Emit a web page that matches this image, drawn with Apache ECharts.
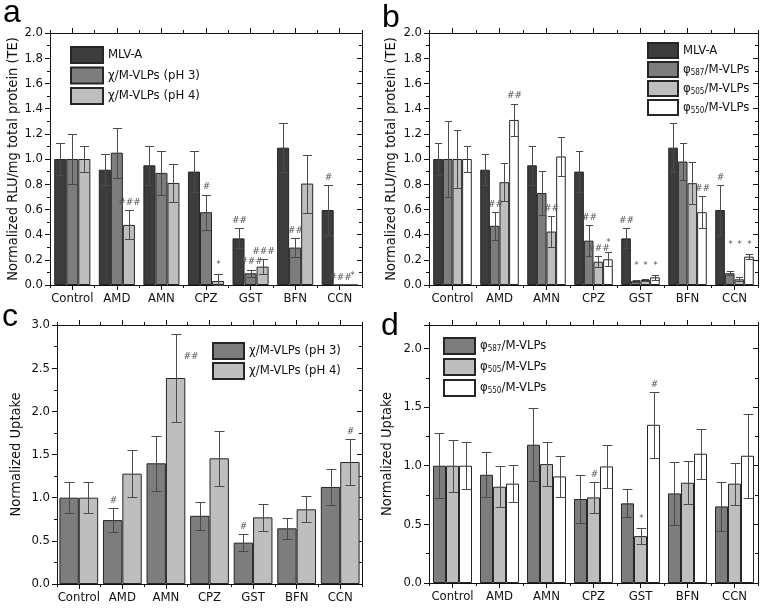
<!DOCTYPE html>
<html lang="en">
<head>
<meta charset="UTF-8">
<title>Normalized transduction and uptake</title>
<script src="https://cdn.jsdelivr.net/npm/echarts@6/dist/echarts.min.js"></script>
<style>
html, body { margin: 0; padding: 0; background: #fff; }
#chart { width: 763px; height: 608px; }
</style>
</head>
<body>
<div id="chart"></div>
<script>
var drugs = ['Control', 'AMD', 'AMN', 'CPZ', 'GST', 'BFN', 'CCN'];

// a / b : MLV-A reference (shared)
var mlvA = [1.00, 0.915, 0.95, 0.90, 0.37, 1.09, 0.595];
var mlvAErr = [0.13, 0.125, 0.155, 0.165, 0.08, 0.195, 0.2];
var mlvAAnn = ['', '', '', '', '##', '', '#'];

// a : chi/M-VLPs transduction
var aPH3 = [1.00, 1.05, 0.89, 0.578, 0.093, 0.297, 0];
var aPH3Err = [0.2, 0.2, 0.175, 0.14, 0.03, 0.075, 0];
var aPH3Ann = ['', '', '', '#', '###', '##', '###'];
var aPH4 = [1.00, 0.477, 0.81, 0.032, 0.146, 0.805, 0];
var aPH4Err = [0.105, 0.115, 0.15, 0.055, 0.06, 0.23, 0];
var aPH4Ann = ['', '###', '', '*', '###', '', '*'];

// b : phi/M-VLPs transduction
var bP587 = [1.00, 0.47, 0.73, 0.352, 0.032, 0.98, 0.093];
var bP587Err = [0.3, 0.11, 0.175, 0.125, 0.005, 0.15, 0.015];
var bP587Ann = ['', '##', '', '##', '*', '', '*'];
var bP505 = [1.00, 0.816, 0.424, 0.185, 0.04, 0.808, 0.045];
var bP505Err = [0.23, 0.15, 0.125, 0.045, 0.01, 0.165, 0.015];
var bP505Ann = ['', '', '##', '###', '*', '', '*'];
var bP550 = [1.00, 1.31, 1.02, 0.204, 0.061, 0.578, 0.225];
var bP550Err = [0.1, 0.13, 0.155, 0.055, 0.02, 0.125, 0.02];
var bP550Ann = ['', '##', '', '*', '*', '##', '*'];

// c : chi/M-VLPs uptake
var cPH3 = [1.00, 0.74, 1.398, 0.79, 0.479, 0.645, 1.124];
var cPH3Err = [0.18, 0.14, 0.32, 0.165, 0.1, 0.12, 0.21];
var cPH3Ann = ['', '#', '', '', '#', '', ''];
var cPH4 = [1.00, 1.278, 2.386, 1.456, 0.772, 0.865, 1.413];
var cPH4Err = [0.18, 0.275, 0.51, 0.32, 0.16, 0.15, 0.265];
var cPH4Ann = ['', '', '##', '', '', '', '#'];

// d : phi/M-VLPs uptake
var dP587 = [1.00, 0.923, 1.179, 0.716, 0.679, 0.764, 0.653];
var dP587Err = [0.275, 0.19, 0.31, 0.205, 0.12, 0.27, 0.21];
var dP587Ann = ['', '', '', '', '', '', ''];
var dP505 = [1.00, 0.821, 1.014, 0.73, 0.40, 0.855, 0.847];
var dP505Err = [0.22, 0.175, 0.19, 0.13, 0.07, 0.185, 0.18];
var dP505Ann = ['', '', '', '#', '*', '', ''];
var dP550 = [1.00, 0.847, 0.909, 0.994, 1.349, 1.102, 1.085];
var dP550Err = [0.2, 0.155, 0.175, 0.18, 0.28, 0.215, 0.36];
var dP550Ann = ['', '', '', '', '#', '', ''];

var FONT = '"DejaVu Sans Condensed", "DejaVu Sans", sans-serif';
var C_DARK = '#3c3c3c', C_MID = '#7d7d7d', C_LIGHT = '#bebebe', C_WHITE = '#ffffff';
var INK = '#111';

var panels = [
    {
        grid: {left: 50, top: 33, width: 312, height: 252},
        max: 2.0, interval: 0.2, gap: 0.19, yName: 'Normalized RLU/mg total protein (TE)', nameGap: 27,
        legend: {left: 70, top: 46, itemWidth: 32, itemHeight: 16, itemGap: 2.5},
        series: [
            {name: 'MLV-A', color: C_DARK, v: mlvA, e: mlvAErr, ann: mlvAAnn},
            {name: 'χ/M-VLPs (pH 3)', color: C_MID, v: aPH3, e: aPH3Err, ann: aPH3Ann},
            {name: 'χ/M-VLPs (pH 4)', color: C_LIGHT, v: aPH4, e: aPH4Err, ann: aPH4Ann}
        ]
    },
    {
        grid: {left: 429, top: 33, width: 329, height: 252},
        max: 2.0, interval: 0.2, gap: 0.18, yName: 'Normalized RLU/mg total protein (TE)', nameGap: 30,
        legend: {left: 647, top: 42, itemWidth: 30, itemHeight: 15, itemGap: 2},
        series: [
            {name: 'MLV-A', color: C_DARK, v: mlvA, e: mlvAErr, ann: mlvAAnn},
            {name: 'φ587/M-VLPs', color: C_MID, v: bP587, e: bP587Err, ann: bP587Ann},
            {name: 'φ505/M-VLPs', color: C_LIGHT, v: bP505, e: bP505Err, ann: bP505Ann},
            {name: 'φ550/M-VLPs', color: C_WHITE, v: bP550, e: bP550Err, ann: bP550Ann}
        ]
    },
    {
        grid: {left: 57, top: 325, width: 305, height: 259},
        max: 3.0, interval: 0.5, gap: 0.11, yName: 'Normalized Uptake', nameGap: 33,
        legend: {left: 212, top: 342, itemWidth: 31, itemHeight: 16, itemGap: 2},
        series: [
            {name: 'χ/M-VLPs (pH 3)', color: C_MID, v: cPH3, e: cPH3Err, ann: cPH3Ann},
            {name: 'χ/M-VLPs (pH 4)', color: C_LIGHT, v: cPH4, e: cPH4Err, ann: cPH4Ann}
        ]
    },
    {
        grid: {left: 429, top: 325, width: 329, height: 258},
        max: 2.2, interval: 0.5, gap: 0.17, yName: 'Normalized Uptake', nameGap: 34,
        legend: {left: 443, top: 337, itemWidth: 31, itemHeight: 16, itemGap: 3},
        series: [
            {name: 'φ587/M-VLPs', color: C_MID, v: dP587, e: dP587Err, ann: dP587Ann},
            {name: 'φ505/M-VLPs', color: C_LIGHT, v: dP505, e: dP505Err, ann: dP505Ann},
            {name: 'φ550/M-VLPs', color: C_WHITE, v: dP550, e: dP550Err, ann: dP550Ann}
        ]
    }
];

var chart = echarts.init(document.getElementById('chart'));

var grids = [], xAxes = [], yAxes = [], legends = [], series = [];

function legendLabel(name) {
    var m = name.match(/^φ(\d+)(.*)$/);
    if (m) return '{n|φ}{s|' + m[1] + '}{n|' + m[2] + '}';
    return '{n|' + name + '}';
}

function catAxis(gi, pos, centers, labels) {
    return {
        type: 'category', gridIndex: gi, position: pos, data: drugs,
        axisLine: {show: true, lineStyle: {color: INK, width: 1}},
        axisTick: {show: true, inside: false, alignWithLabel: centers, length: centers ? 5 : 3,
            interval: 0, lineStyle: {color: INK}},
        axisLabel: {show: labels, interval: 0, margin: 7, color: INK, fontSize: 13, fontFamily: FONT},
        splitLine: {show: false}
    };
}

function valAxis(gi, p, right) {
    return {
        type: 'value', gridIndex: gi, position: right ? 'right' : 'left',
        min: 0, max: p.max, interval: p.interval,
        name: right ? '' : p.yName, nameLocation: 'middle', nameGap: p.nameGap,
        nameTextStyle: {color: INK, fontSize: 14.5, fontFamily: FONT},
        axisLine: {show: true, lineStyle: {color: INK, width: 1}},
        axisTick: {show: true, inside: right, length: 5, lineStyle: {color: INK}},
        minorTick: {show: true, splitNumber: 2, length: 3, lineStyle: {color: INK}},
        axisLabel: {show: !right, margin: 7, color: INK, fontSize: 13, fontFamily: FONT,
            showMaxLabel: p.max % p.interval < 1e-9 || Math.abs(p.max % p.interval - p.interval) < 1e-9,
            formatter: function (v) { return v.toFixed(1); }},
        splitLine: {show: false}
    };
}

function errorSeries(pi, k, p) {
    var s = p.series[k], n = p.series.length;
    return {
        type: 'custom', xAxisIndex: pi * 4, yAxisIndex: pi * 2, z: 5, silent: true,
        data: s.v.map(function (v, i) { return [i, v, s.e[i]]; }),
        renderItem: function (params, api) {
            var i = api.value(0), v = api.value(1), e = api.value(2);
            var band = api.size([1, 0])[0];
            var bw = band * (1 - p.gap) / n;
            var x = Math.round(api.coord([i, 0])[0] + (k - (n - 1) / 2) * bw) + 0.5;
            var cap = Math.min(bw * 0.75, 10) / 2;
            var yTop = Math.round(api.coord([i, v + e])[1]) + 0.5;
            var yBot = Math.round(api.coord([i, Math.max(v - e, 0)])[1]) + 0.5;
            var children = [];
            var ls = {stroke: '#4a4a4a', lineWidth: 1};
            if (e > 0) {
                children.push({type: 'line', shape: {x1: x, y1: yTop, x2: x, y2: yBot}, style: ls});
                children.push({type: 'line', shape: {x1: x - cap, y1: yTop, x2: x + cap, y2: yTop}, style: ls});
                children.push({type: 'line', shape: {x1: x - cap, y1: yBot, x2: x + cap, y2: yBot}, style: ls});
            }
            var txt = s.ann[params.dataIndex];
            if (txt) {
                // asterisks in one group share a level
                var level = v + e;
                if (txt === '*') {
                    p.series.forEach(function (o) {
                        if (o.ann[i] === '*') level = Math.max(level, o.v[i] + o.e[i]);
                    });
                }
                var ty = api.coord([i, level])[1] - (txt === '*' ? 5 : 3);
                var tx = x, align = 'center', va = 'bottom';
                var cs = params.coordSys;
                if (ty - 9 < cs.y) {
                    tx = x + cap + 2; align = 'left'; va = 'middle';
                    ty = (yTop + api.coord([i, v])[1]) / 2;
                }
                children.push({type: 'text', style: {text: txt, x: tx, y: ty, align: align, verticalAlign: va,
                    fontSize: 9, fontStyle: 'italic', fontFamily: 'DejaVu Sans', fill: '#555'}});
            }
            return {type: 'group', children: children};
        }
    };
}

panels.forEach(function (p, pi) {
    grids.push({left: p.grid.left, top: p.grid.top, width: p.grid.width, height: p.grid.height, show: false});
    xAxes.push(catAxis(pi, 'bottom', false, true));
    xAxes.push(catAxis(pi, 'bottom', true, false));
    xAxes.push(catAxis(pi, 'top', false, false));
    xAxes.push(catAxis(pi, 'top', true, false));
    yAxes.push(valAxis(pi, p, false));
    yAxes.push(valAxis(pi, p, true));
    legends.push({
        orient: 'vertical', left: p.legend.left, top: p.legend.top, padding: 0,
        itemWidth: p.legend.itemWidth, itemHeight: p.legend.itemHeight, itemGap: p.legend.itemGap,
        icon: 'rect', selectedMode: false,
        data: p.series.map(function (s) { return s.name; }),
        formatter: legendLabel,
        textStyle: {color: INK, fontFamily: FONT, fontSize: 13,
            rich: {
                n: {fontSize: 13, fontFamily: FONT, color: INK},
                s: {fontSize: 8, fontFamily: FONT, color: INK, verticalAlign: 'bottom', padding: [6, 0, 0, 0]}
            }}
    });
    p.series.forEach(function (s) {
        series.push({
            type: 'bar', name: s.name, xAxisIndex: pi * 4, yAxisIndex: pi * 2,
            data: s.v, barGap: '0%', barCategoryGap: (p.gap * 100) + '%',
            itemStyle: {color: s.color, borderColor: '#262626', borderWidth: 1},
            emphasis: {disabled: true}, silent: true
        });
    });
    p.series.forEach(function (s, k) { series.push(errorSeries(pi, k, p)); });
});

var letters = [['a', 3, 14], ['b', 382, 19], ['c', 2, 318], ['d', 381, 327]];

chart.setOption({
    backgroundColor: '#fff',
    animation: false,
    grid: grids,
    xAxis: xAxes,
    yAxis: yAxes,
    legend: legends,
    series: series,
    graphic: letters.map(function (l) {
        return {type: 'text', left: l[1], top: l[2] - 17,
            style: {text: l[0], fontSize: 32, fontFamily: '"Liberation Sans", Arial, sans-serif', fill: '#000'}};
    })
});
</script>
</body>
</html>
